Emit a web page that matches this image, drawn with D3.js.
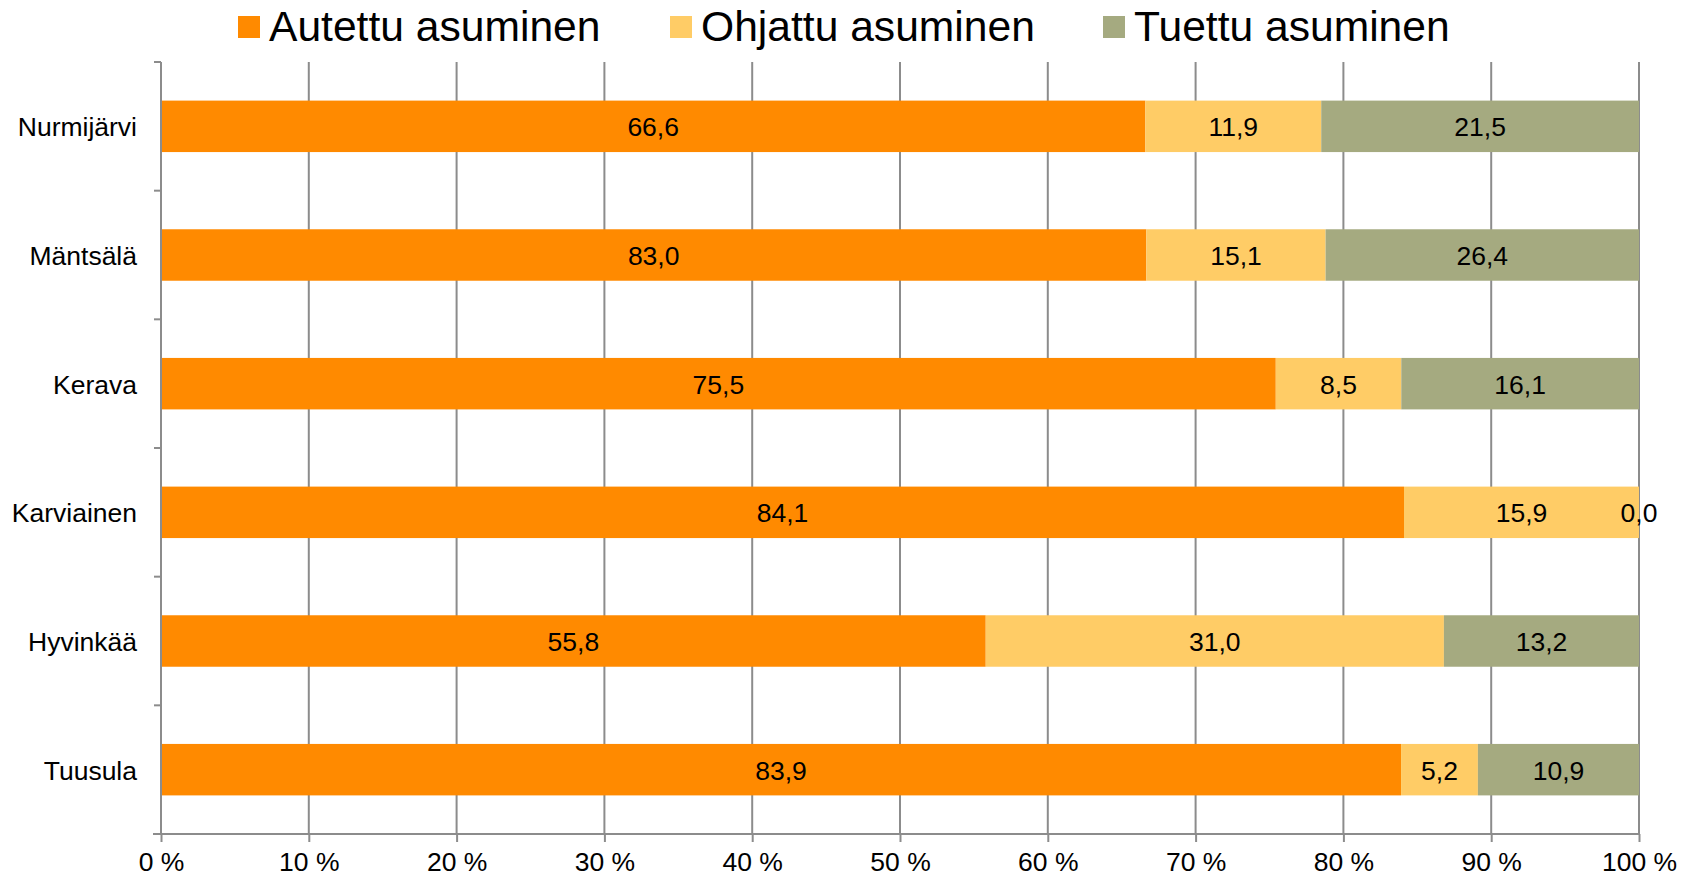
<!DOCTYPE html>
<html>
  <head>
    <meta charset="utf-8" />
    <script src="https://d3js.org/d3.v7.min.js"></script>
    <style>
      body { margin: 0; background: #fff; }
      text { font-family: "Liberation Sans", Arial, sans-serif; fill: #000; }
    </style>
  </head>
  <body>
    <svg id="chart" width="1694" height="878"></svg>

    <script>
      // categories, top to bottom
      const kunnat = ["Nurmijärvi", "Mäntsälä", "Kerava", "Karviainen", "Hyvinkää", "Tuusula"];
      const sarjat = ["Autettu asuminen", "Ohjattu asuminen", "Tuettu asuminen"];
      const autettu = [66.6, 83.0, 75.5, 84.1, 55.8, 83.9];
      const ohjattu = [11.9, 15.1, 8.5, 15.9, 31.0, 5.2];
      const tuettu = [21.5, 26.4, 16.1, 0.0, 13.2, 10.9];
      const xTicks = [0, 0.1, 0.2, 0.3, 0.4, 0.5, 0.6, 0.7, 0.8, 0.9, 1];
      const colors = ["#FF8A00", "#FFCC66", "#A5AA80"];

      const svg = d3.select("#chart");
      const margin = { top: 62, right: 55, bottom: 44, left: 161 };
      const width = 1694 - margin.left - margin.right,
        height = 878 - margin.top - margin.bottom;

      const rows = kunnat.map((k, i) => ({
        kunta: k,
        [sarjat[0]]: autettu[i],
        [sarjat[1]]: ohjattu[i],
        [sarjat[2]]: tuettu[i],
      }));

      // 100 % stacked
      const stack = d3.stack().keys(sarjat).offset(d3.stackOffsetExpand);
      const series = stack(rows);

      const x = d3.scaleLinear().domain([0, 1]).range([0, width]);
      const y = d3.scaleBand().domain(kunnat).range([0, height]).paddingInner(0.6).paddingOuter(0.3);
      const color = d3.scaleOrdinal().domain(sarjat).range(colors);

      const g = svg.append("g").attr("transform", `translate(${margin.left},${margin.top})`);

      // vertical gridlines
      g.selectAll("line.grid")
        .data(xTicks.slice(1))
        .join("line")
        .attr("class", "grid")
        .attr("x1", (d) => x(d))
        .attr("x2", (d) => x(d))
        .attr("y1", 0)
        .attr("y2", height)
        .attr("stroke", "#8c8c8c")
        .attr("stroke-width", 2);

      // bars
      g.selectAll("g.serie")
        .data(series)
        .join("g")
        .attr("class", "serie")
        .attr("fill", (d) => color(d.key))
        .selectAll("rect")
        .data((d) => d)
        .join("rect")
        .attr("x", (d) => x(d[0]))
        .attr("y", (d) => y(d.data.kunta))
        .attr("width", (d) => x(d[1]) - x(d[0]))
        .attr("height", y.bandwidth());

      // value labels
      series.forEach((s) => {
        g.selectAll(null)
          .data(s)
          .join("text")
          .attr("x", (d) => x((d[0] + d[1]) / 2))
          .attr("y", (d) => y(d.data.kunta) + y.bandwidth() / 2)
          .attr("dy", "0.38em")
          .attr("text-anchor", "middle")
          .style("font-size", "26.5px")
          .text((d) => d3.format(".1f")(d.data[s.key]).replace(".", ","));
      });

      // x axis
      const xAxis = g.append("g")
        .attr("transform", `translate(0,${height})`)
        .call(d3.axisBottom(x).tickValues(xTicks).tickSize(8).tickPadding(10)
          .tickFormat((d) => Math.round(d * 100) + " %"));
      xAxis.select(".domain").attr("d", `M-8,0H${width}`);
      xAxis.selectAll("line, path").attr("stroke", "#8c8c8c").attr("stroke-width", 2);
      xAxis.selectAll("text").style("font-size", "26.5px").style("font-family", "'Liberation Sans', Arial, sans-serif");

      // y axis: ticks between categories
      const bandStep = y.step();
      const yBounds = d3.range(kunnat.length + 1).map((i) => i * bandStep);
      g.append("line")
        .attr("x1", 0).attr("x2", 0)
        .attr("y1", 0).attr("y2", height)
        .attr("stroke", "#8c8c8c").attr("stroke-width", 2);
      g.selectAll("line.ytick")
        .data(yBounds)
        .join("line")
        .attr("class", "ytick")
        .attr("x1", -7).attr("x2", 0)
        .attr("y1", (d) => d).attr("y2", (d) => d)
        .attr("stroke", "#8c8c8c").attr("stroke-width", 2);
      g.selectAll("text.ylab")
        .data(kunnat)
        .join("text")
        .attr("class", "ylab")
        .attr("x", -24)
        .attr("y", (d) => y(d) + y.bandwidth() / 2)
        .attr("dy", "0.38em")
        .attr("text-anchor", "end")
        .style("font-size", "26.5px")
        .text((d) => d);

      // legend
      const legendX = [238, 670, 1103];
      const legend = svg.selectAll("g.legend")
        .data(sarjat)
        .join("g")
        .attr("class", "legend")
        .attr("transform", (d, i) => `translate(${legendX[i]},16)`);
      legend.append("rect")
        .attr("width", 22).attr("height", 22)
        .attr("fill", (d) => color(d));
      legend.append("text")
        .attr("x", 31)
        .attr("y", 25)
        .style("font-size", "42.6px")
        .text((d) => d);
    </script>
  </body>
</html>
